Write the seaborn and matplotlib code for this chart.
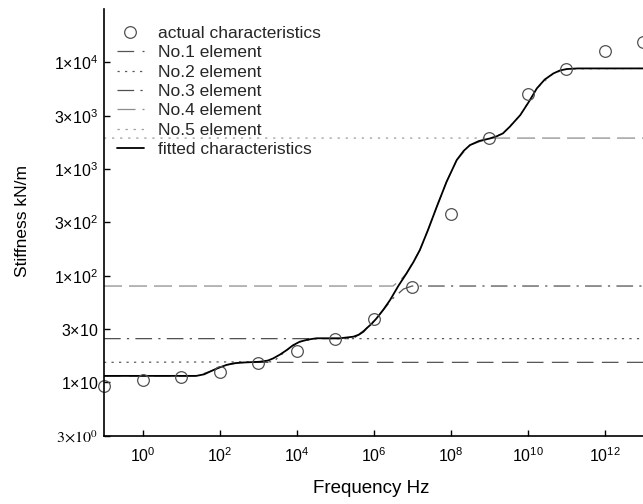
import matplotlib
matplotlib.use("Agg")
import matplotlib.pyplot as plt
import seaborn as sns

# ---------------- data ----------------
actual_freq = [1e-1, 1e0, 1e1, 1e2, 1e3, 1e4, 1e5, 1e6, 1e7, 1e8, 1e9, 1e10, 1e11, 1e12, 1e13]
actual_stiff = [9.25, 10.5, 11.3, 12.6, 15.1, 19.5, 25.3, 39.0, 77.8, 376, 1940, 5040, 8650, 12800, 15600]

fit_freq = [1e-1, 25, 40, 56, 90, 155, 240, 340, 1.1e3, 1.8e3, 2.5e3, 3.8e3, 5.6e3, 8e3,
            1.2e4, 2e4, 3.3e4, 1.35e5, 3.0e5, 4.2e5, 5.5e5, 6.6e5, 9e5, 1.2e6, 1.8e6,
            2.7e6, 4.4e6, 7.2e6, 1.1e7, 1.6e7, 2.6e7, 4.4e7, 7.9e7, 1.45e8, 2.2e8, 3.2e8,
            5.5e8, 1.07e9, 1.6e9, 2.3e9, 3.5e9, 6.5e9, 1.1e10, 1.75e10, 2.8e10, 4.7e10,
            7e10, 1.05e11, 2e11, 1e13]
fit_stiff = [11.5, 11.5, 11.9, 12.6, 13.6, 14.6, 15.1, 15.3, 15.6, 16.0, 16.8, 18.3, 20.1, 22.2,
             24.0, 25.2, 25.9, 25.9, 26.8, 28.0, 29.9, 32.1, 35.5, 39.8, 48.0,
             59.2, 80, 105, 135, 174, 268, 443, 759, 1213, 1480, 1675,
             1830, 1936, 2030, 2158, 2500, 3206, 4300, 5702, 6900, 7870,
             8400, 8650, 8770, 8770]

el1_freq = [1e-1, 25, 56, 155, 340, 1e3, 1e13]
el1_stiff = [11.5, 11.5, 12.6, 14.6, 15.3, 15.4, 15.4]

el2_freq = [1e-1, 2.5e3, 5.6e3, 1.2e4, 3.3e4, 1e13]
el2_stiff = [15.4, 15.6, 20.1, 24.0, 25.7, 25.7]

el3_freq = [1e-1, 3.0e5, 6.6e5, 1.2e6, 3.0e6, 6.0e6, 1.0e7, 1e13]
el3_stiff = [25.7, 25.7, 32.1, 39.8, 60, 75, 80, 80]

el4_freq = [1e-1, 3.2e6, 5.0e6, 7.2e6, 1.6e7, 2.6e7, 4.4e7, 7.9e7, 1.45e8, 3.2e8, 1.07e9, 1e13]
el4_stiff = [80, 80, 91, 105, 174, 268, 443, 759, 1213, 1675, 1950, 1950]

el5_freq = [1e-1, 1.07e9, 2.3e9, 6.5e9, 1.75e10, 4.7e10, 1.05e11, 1e13]
el5_stiff = [1950, 1950, 2158, 3206, 5702, 7870, 8650, 8770]

element_labels = ["No.1 element", "No.2 element", "No.3 element", "No.4 element", "No.5 element"]

xtick_values = [1e0, 1e2, 1e4, 1e6, 1e8, 1e10, 1e12]
xtick_labels = [r"$10^{0}$", r"$10^{2}$", r"$10^{4}$", r"$10^{6}$", r"$10^{8}$",
                r"$10^{10}$", r"$10^{12}$"]
ytick_values = [3.1623, 10, 31.623, 100, 316.23, 1000, 3162.3, 10000]
ytick_labels = [r"$3{\times}10^{0}$", r"$1{\times}10$", r"$3{\times}10$", r"$1{\times}10^{2}$",
                r"$3{\times}10^{2}$", r"$1{\times}10^{3}$", r"$3{\times}10^{3}$", r"$1{\times}10^{4}$"]

# ---------------- style ----------------
sns.set_theme(style="white")
plt.rcParams["font.family"] = ["Liberation Sans", "DejaVu Sans"]
plt.rcParams["mathtext.fontset"] = "custom"
plt.rcParams["mathtext.rm"] = "Liberation Sans"
plt.rcParams["mathtext.it"] = "Liberation Sans:italic"
plt.rcParams["mathtext.bf"] = "Liberation Sans:bold"
plt.rcParams["lines.scale_dashes"] = False

fig = plt.figure(figsize=(6.43, 5.04), dpi=100)
W, H = 643.0, 504.0
ax = fig.add_axes([104 / W, 68.3 / H, 539 / W, 426.7 / H])
ax.set_xscale("log")
ax.set_yscale("log")

styles = [
    (el1_freq, el1_stiff, "#555555", (0, (12, 6))),
    (el2_freq, el2_stiff, "#5a5a5a", (0, (1.6, 3.8))),
    (el3_freq, el3_stiff, "#505050", (0, (12, 4.5, 1.6, 4.5))),
    (el4_freq, el4_stiff, "#8c8c8c", (0, (13, 5))),
    (el5_freq, el5_stiff, "#9a9a9a", (0, (1.6, 4.2))),
]

for (fx, fy, col, ls), lab in zip(styles, element_labels):
    sns.lineplot(x=fx, y=fy, ax=ax, color=col, linestyle=ls, linewidth=0.9,
                 estimator=None, sort=False, label=lab)

sns.lineplot(x=fit_freq, y=fit_stiff, ax=ax, color="black", linewidth=1.3,
             estimator=None, sort=False, label="fitted characteristics")

sns.lineplot(x=actual_freq, y=actual_stiff, ax=ax, color="#505050", linestyle="none",
             marker="o", markersize=8.4, markerfacecolor="none",
             markeredgecolor="#505050", markeredgewidth=0.9, clip_on=False,
             estimator=None, sort=False, label="actual characteristics")

ax.set_xlim(1e-1, 1e13)
ax.set_ylim(3.1623, 31623)

ax.xaxis.set_major_locator(matplotlib.ticker.FixedLocator(xtick_values))
ax.xaxis.set_minor_locator(matplotlib.ticker.NullLocator())
ax.set_xticklabels(xtick_labels)
ax.yaxis.set_major_locator(matplotlib.ticker.FixedLocator(ytick_values))
ax.yaxis.set_minor_locator(matplotlib.ticker.NullLocator())
ax.set_yticklabels(ytick_labels)
ax.yaxis.get_ticklabels()[0].set_math_fontfamily("stix")

ax.tick_params(axis="both", direction="in", length=4, width=1.0, color="black",
               labelcolor="black", labelsize=11.5)
ax.tick_params(axis="x", pad=7.5, bottom=True)
ax.tick_params(axis="y", pad=4.3, left=True)

for s in ["top", "right"]:
    ax.spines[s].set_visible(False)
for s in ["left", "bottom"]:
    ax.spines[s].set_color("black")
    ax.spines[s].set_linewidth(1.2)

ax.set_xlabel("Frequency Hz", fontsize=13.5, color="black")
ax.set_ylabel("Stiffness kN/m", fontsize=12.5, color="black")
ax.xaxis.set_label_coords(0.4954, -0.104)
ax.yaxis.set_label_coords(-0.138, 0.504)

handles, labels = ax.get_legend_handles_labels()
order = ["actual characteristics"] + element_labels + ["fitted characteristics"]
hmap = dict(zip(labels, handles))
leg = ax.legend([hmap[k] for k in order], order, loc="upper left",
                bbox_to_anchor=(0.024, 0.961), frameon=False, fontsize=12.5,
                handlelength=1.55, handletextpad=0.8, labelspacing=0.245,
                borderpad=0, borderaxespad=0)

fig.savefig("out.png", dpi=100)
